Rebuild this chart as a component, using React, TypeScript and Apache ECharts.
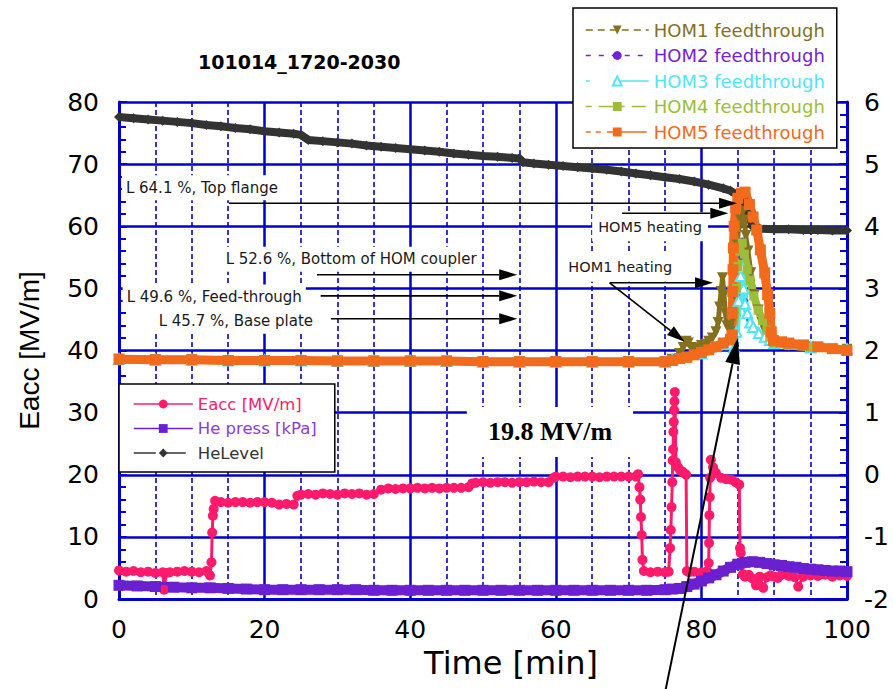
import React, { useEffect, useRef } from 'react';
import * as echarts from 'echarts';

// ---------------- data ----------------
const titleText = '101014_1720-2030';
const xRange = [0, 100];
const leftRange = [0, 80];
const rightRange = [-2, 6];

// Eacc [MV/m] (left axis)
const eaccT = [
  0, 1, 2, 3, 4, 5, 6, 6.2, 6.5, 7, 8, 9, 10, 11, 12, 12.5, 12.7, 12.8, 12.9, 13.0, 13.2,
  14, 15, 16, 17, 18, 19, 20, 21, 22, 23, 24, 24.5,
  25, 26, 27, 28, 29, 30, 31, 32, 33, 34, 35, 36, 37, 38, 39, 40, 41, 42, 43, 44, 45, 46, 47, 48, 48.5,
  49, 50, 51, 52, 53, 54, 55, 56, 57, 58, 59, 59.7,
  60, 61, 62, 63, 64, 65, 66, 67, 68, 69, 70, 71, 71.3,
  71.5, 71.6, 71.7, 71.8, 71.9, 72.1, 73, 74, 75, 75.5,
  75.7, 75.8, 75.9, 76.0, 76.05, 76.1, 76.15, 76.2, 76.25, 76.3,
  76.35, 76.5, 76.8, 77.1, 77.4, 77.7, 77.9, 78.0, 78.3, 79,
  80, 80.8, 81.0, 81.05, 81.1, 81.15, 81.2, 81.3, 81.6, 82,
  82.7, 83.4, 84.1, 84.7, 85.2, 85.3, 85.4, 85.5, 85.7, 86,
  86.5, 87, 87.5, 88, 88.5, 89, 89.5, 90, 90.5, 91,
  92, 92.8, 93.3, 94, 95, 96, 97, 98, 99, 100,
];
const eaccV = [
  4.6, 4.4, 4.5, 4.3, 4.4, 4.2, 4.3, 1.5, 4.2, 4.3, 4.4, 4.5, 4.4, 4.3, 4.5, 3.8, 5.9, 10.7, 13.4, 14.5, 15.8,
  15.6, 15.5, 15.6, 15.6, 15.5, 15.6, 15.6, 15.5, 15.2, 15.3, 15.2, 16.6,
  16.8, 16.9, 16.8, 17.0, 16.9, 16.8, 17.0, 16.9, 17.0, 16.8, 16.9, 17.6, 17.8, 17.7, 17.8, 17.8, 17.9, 17.8, 17.9, 17.8, 17.9, 17.9, 17.9, 18.0, 18.6,
  18.7, 18.8, 18.7, 18.8, 18.8, 18.7, 18.8, 18.8, 18.9, 18.8, 18.8, 19.5,
  19.7, 19.7, 19.6, 19.7, 19.7, 19.7, 19.6, 19.7, 19.7, 19.7, 19.7, 19.7, 20.1,
  18.0, 16.0, 13.2, 10.3, 6.3, 4.5, 4.3, 4.4, 4.3, 4.4,
  8.2, 11.1, 14.8, 18.8, 22.3, 24.1, 26.9, 28.5, 30.4, 31.8,
  33.3, 22.0, 21.2, 20.7, 20.5, 20.2, 20.0, 4.5, 4.3, 4.4,
  4.3, 4.5, 5.8, 9.0, 13.5, 16.4, 19.5, 22.4, 21.2, 20.3,
  19.5, 19.3, 19.2, 18.8, 18.4, 8.2, 7.4, 5.5, 4.0, 3.6,
  3.9, 3.3, 2.2, 3.6, 1.8, 3.5, 3.8, 3.6, 3.4, 3.9,
  3.7, 3.5, 2.0, 3.6, 3.8, 3.7, 3.9, 3.6, 3.8, 3.7,
];

// He press [kPa] (right axis)
const hpT = [
  0, 2.5, 5, 7.5, 10, 12.5, 15, 17.5, 20, 22.5, 25, 27.5, 30, 32.5, 35, 37.5, 40, 42.5, 45, 47.5,
  50, 52.5, 55, 57.5, 60, 62.5, 65, 67.5, 70, 72.5, 75,
  76, 77, 78, 79, 80, 81, 82, 83, 84, 85, 86, 87, 88, 89, 90, 91, 92, 93, 94, 95, 96, 97, 98, 99, 100,
];
const hpV = [
  -1.78, -1.79, -1.8, -1.81, -1.82, -1.82, -1.83, -1.84, -1.85, -1.85, -1.85, -1.85, -1.85, -1.85, -1.86, -1.86, -1.86, -1.86, -1.86, -1.86,
  -1.86, -1.86, -1.86, -1.86, -1.86, -1.86, -1.86, -1.86, -1.86, -1.86, -1.85,
  -1.84, -1.83, -1.8, -1.76, -1.71, -1.66, -1.61, -1.55, -1.49, -1.44, -1.41, -1.4, -1.41, -1.43, -1.45, -1.46, -1.48, -1.49, -1.51, -1.52, -1.53, -1.54, -1.55, -1.55, -1.56,
];

// HeLevel (right axis)
const hlT = [
  0, 2, 4, 6, 8, 10, 12, 14, 16, 18, 20, 22, 24, 25, 26, 28, 30, 32, 34, 36,
  38, 40, 42, 44, 46, 48, 50, 52, 54, 55, 55.5, 57, 59, 61, 63, 65, 67, 69, 71, 73,
  75, 77, 79, 81, 83, 84, 85, 85.7, 86.5, 87, 88, 90, 92, 94, 96, 98, 100,
];
const hlV = [
  5.76, 5.74, 5.72, 5.7, 5.68, 5.66, 5.63, 5.61, 5.58, 5.56, 5.53, 5.51, 5.49, 5.47, 5.39, 5.37, 5.35, 5.33, 5.3, 5.28,
  5.26, 5.24, 5.22, 5.2, 5.17, 5.15, 5.13, 5.12, 5.1, 5.09, 5.03, 5.01, 4.99, 4.97, 4.95, 4.93, 4.91, 4.88, 4.85, 4.82,
  4.79, 4.76, 4.72, 4.67, 4.61, 4.57, 4.5, 4.45, 4.2, 4.0, 3.96, 3.95, 3.95, 3.94, 3.94, 3.93, 3.93,
];

// HOM feedthrough temperatures (right axis): common baseline, then per-series tails
const homBaseT = [0, 5, 10, 15, 20, 25, 30, 35, 40, 45, 50, 55, 60, 65, 70, 75];
const homBaseV = [1.86, 1.85, 1.85, 1.84, 1.84, 1.84, 1.83, 1.83, 1.83, 1.83, 1.82, 1.82, 1.82, 1.82, 1.82, 1.82];

const hom1T = [76, 77, 77.5, 77.9, 78.2, 78.6, 79, 79.5, 80, 80.5, 81, 81.5, 82, 82.3, 82.5, 82.7, 82.9, 83.1, 83.3, 83.5,
  83.8, 84.1, 84.3, 84.5, 84.7, 84.9, 85.1, 85.4, 85.7, 85.9, 86.1, 86.4, 86.8, 87.3, 87.8, 88.3, 88.8, 89.3, 90, 92, 95, 100];
const hom1V = [1.86, 1.95, 2.05, 2.15, 2.12, 2.05, 2.0, 2.04, 2.08, 2.1, 2.15, 2.2, 2.3, 2.45, 2.7, 2.95, 3.17, 2.9, 2.6, 2.4,
  2.35, 2.3, 2.5, 2.9, 3.3, 3.7, 3.95, 4.1, 4.24, 4.1, 3.85, 3.6, 3.25, 2.9, 2.65, 2.45, 2.3, 2.2, 2.12, 2.08, 2.05, 2.02];

const hom2T = [76, 80, 84, 84.6, 85.0, 85.4, 85.6, 85.8, 86.1, 86.5, 87.2, 88, 89, 90, 95, 100];
const hom2V = [1.85, 1.95, 2.1, 2.3, 2.9, 3.5, 3.78, 3.3, 2.8, 2.5, 2.35, 2.27, 2.2, 2.12, 2.05, 2.02];

const hom3T = [76, 80, 84, 84.5, 84.8, 85.1, 85.4, 85.6, 85.8, 86.0, 86.3, 86.7, 87.1, 87.9, 88.7, 89.4, 90, 95, 100];
const hom3V = [1.85, 1.95, 2.1, 2.05, 2.3, 2.8, 3.2, 3.34, 3.0, 2.75, 2.6, 2.45, 2.38, 2.28, 2.22, 2.17, 2.12, 2.05, 2.02];

const hom4T = [76, 78, 80, 82, 84, 84.4, 84.6, 84.8, 85.0, 85.3, 85.6, 85.9, 86.3, 86.7, 87.2, 87.8, 88.4, 89, 89.4, 90, 92, 95, 100];
const hom4V = [1.85, 1.88, 1.95, 2.05, 2.15, 2.25, 2.6, 3.0, 3.35, 3.6, 3.73, 3.55, 3.3, 3.13, 2.88, 2.65, 2.48, 2.33, 2.22, 2.12, 2.08, 2.05, 2.02];

const hom5T = [76, 77, 78, 79, 80, 81, 82, 83, 84, 84.2, 84.25, 84.3, 84.35, 84.4, 84.5, 84.7, 85.0, 85.5, 86.0, 86.6,
  87.1, 87.6, 88.1, 88.7, 89.1, 89.4, 89.6, 89.9, 91, 92, 94, 96, 98, 100];
const hom5V = [1.84, 1.87, 1.89, 1.93, 1.97, 2.01, 2.06, 2.12, 2.18, 2.25, 2.6, 2.95, 3.3, 3.65, 4.0, 4.3, 4.45, 4.53, 4.55, 4.35,
  4.15, 3.94, 3.62, 3.25, 2.9, 2.6, 2.3, 2.16, 2.14, 2.12, 2.09, 2.06, 2.03, 2.0];

// annotation texts, anchored at [time, Eacc] (left edge, vertical centre)
const noteTexts = ['L 64.1 %, Top flange', 'L 52.6 %, Bottom of HOM coupler', 'L 49.6 %, Feed-through', 'L 45.7 %, Base plate', 'HOM5 heating', 'HOM1 heating'];
const noteT = [0.4, 14.1, 0.5, 4.9, 65.0, 60.9];
const noteE = [66.2, 54.7, 48.6, 44.7, 59.9, 53.4];

// arrows: start [time, Eacc] -> tip [time, Eacc]
const arrowFromT = [15.1, 69.1, 27.2, 27.7, 29.1, 67.4, 67.4];
const arrowFromE = [63.7, 62.1, 52.2, 48.8, 45.1, 50.9, 50.9];
const arrowToT = [84.9, 83.7, 54.7, 54.7, 54.7, 81.6, 77.7];
const arrowToE = [63.7, 62.1, 52.2, 48.8, 45.1, 50.9, 41.4];
const bigArrowFrom = [75.1, -14.5];
const bigArrowTo = [85.0, 42.0];
const bigLabel = '19.8 MV/m';
const bigLabelAt = [59.2, 26.9];

// ---------------------------------------------------------------
const zip = (t: number[], v: number[]) => t.map((x, i) => [x, v[i]]);

const BLUE = '#0000CC';
const C_EACC = '#FF1A6C';
const C_HP = '#6A1FD0';
const C_HL = '#333333';
const C_H1 = '#84711F';
const C_H2 = '#7422D8';
const C_H3 = '#4FE6F5';
const C_H4 = '#9CBD38';
const C_H5 = '#F26A1B';
const SANS = 'DejaVu Sans';

export default function App() {
  const ref = useRef<HTMLDivElement>(null);

  useEffect(() => {
    const chart = echarts.init(ref.current as HTMLDivElement, null, { renderer: 'svg' });

    const homSeries = (name: string, color: string, t: number[], v: number[], symbol: string, size: number, width: number, rotate = 0) => ({
      name,
      type: 'line',
      yAxisIndex: 1,
      data: zip(homBaseT.concat(t), homBaseV.concat(v)),
      symbol,
      symbolSize: size,
      symbolRotate: rotate,
      showSymbol: true,
      color,
      itemStyle: { color },
      lineStyle: { color, width },
      silent: true,
    });

    const option: any = {
      animation: false,
      backgroundColor: '#ffffff',
      title: {
        text: titleText,
        left: 198,
        top: 52,
        padding: 0,
        textStyle: { fontFamily: SANS, fontWeight: 'bold', fontSize: 19, color: '#000' },
      },
      grid: { left: 119, right: 46, top: 102, bottom: 90, containLabel: false },
      xAxis: {
        type: 'value',
        min: xRange[0],
        max: xRange[1],
        interval: 20,
        name: 'Time [min]',
        nameLocation: 'middle',
        nameGap: 48,
        nameTextStyle: { fontFamily: SANS, fontSize: 32, color: '#000', padding: [0, 0, 0, 56] },
        axisLine: { show: true, onZero: false, lineStyle: { color: BLUE, width: 3 } },
        axisTick: { show: false },
        minorTick: { show: false, splitNumber: 4 },
        axisLabel: { fontFamily: SANS, fontSize: 25, color: '#000', margin: 18 },
        splitLine: { show: true, lineStyle: { color: BLUE, width: 2.5 } },
        minorSplitLine: { show: true, lineStyle: { color: BLUE, width: 1.6, type: [5, 3] } },
      },
      yAxis: [
        {
          type: 'value',
          min: leftRange[0],
          max: leftRange[1],
          interval: 10,
          position: 'left',
          name: 'Eacc [MV/m]',
          nameLocation: 'middle',
          nameGap: 76,
          nameTextStyle: { fontFamily: 'Liberation Sans', fontSize: 28, color: '#000' },
          axisLine: { show: true, onZero: false, lineStyle: { color: BLUE, width: 3 } },
          axisTick: { show: true, inside: true, length: 8, lineStyle: { color: BLUE, width: 2 } },
          minorTick: { show: true, splitNumber: 5, length: 7, lineStyle: { color: BLUE, width: 2 } },
          axisLabel: { fontFamily: SANS, fontSize: 25, color: '#000', margin: 20 },
          splitLine: { show: true, lineStyle: { color: BLUE, width: 2.5 } },
        },
        {
          type: 'value',
          min: rightRange[0],
          max: rightRange[1],
          interval: 1,
          position: 'right',
          axisLine: { show: true, onZero: false, lineStyle: { color: BLUE, width: 3 } },
          axisTick: { show: true, inside: true, length: 8, lineStyle: { color: BLUE, width: 2 } },
          minorTick: { show: true, splitNumber: 5, length: 7, lineStyle: { color: BLUE, width: 2 } },
          axisLabel: { fontFamily: SANS, fontSize: 25, color: '#000', margin: 17 },
          splitLine: { show: false },
        },
      ],
      legend: [
        {
          orient: 'vertical',
          left: 573,
          top: 8,
          padding: [12, 12, 6, 12],
          itemGap: 5.5,
          itemWidth: 63,
          itemHeight: 11,
          backgroundColor: '#ffffff',
          borderColor: '#000',
          borderWidth: 1.5,
          borderRadius: 0,
          selectedMode: false,
          lineStyle: { width: 1.5 },
          textStyle: { fontFamily: SANS, fontSize: 18, lineHeight: 20 },
          data: [
            { name: 'HOM1 feedthrough', textStyle: { color: C_H1 }, lineStyle: { type: [7, 5] } },
            { name: 'HOM2 feedthrough', textStyle: { color: C_H2 }, lineStyle: { type: [5, 8] } },
            { name: 'HOM3 feedthrough', textStyle: { color: C_H3 }, lineStyle: { type: [4, 24, 60] } },
            { name: 'HOM4 feedthrough', textStyle: { color: C_H4 }, lineStyle: { type: [6, 7, 14, 6] } },
            { name: 'HOM5 feedthrough', textStyle: { color: C_H5 }, lineStyle: { type: [5, 5, 5, 6, 40] } },
          ],
        },
        {
          orient: 'vertical',
          left: 119,
          top: 384,
          padding: [11, 18, 10, 14],
          itemGap: 6.5,
          itemWidth: 59,
          itemHeight: 11,
          backgroundColor: '#ffffff',
          borderColor: '#000',
          borderWidth: 1.5,
          selectedMode: false,
          lineStyle: { width: 1.5 },
          textStyle: { fontFamily: SANS, fontSize: 16.5, lineHeight: 18 },
          data: [
            { name: 'Eacc [MV/m]', textStyle: { color: C_EACC } },
            { name: 'He press [kPa]', textStyle: { color: '#8A3CE0' } },
            { name: 'HeLevel', textStyle: { color: C_HL }, lineStyle: { type: [22, 8] } },
          ],
        },
      ],
      series: [
        {
          name: 'Eacc [MV/m]',
          type: 'line',
          yAxisIndex: 0,
          data: zip(eaccT, eaccV),
          symbol: 'circle',
          symbolSize: 10,
          showSymbol: true,
          color: C_EACC,
          itemStyle: { color: C_EACC },
          lineStyle: { color: C_EACC, width: 3 },
          silent: true,
        },
        {
          name: 'He press [kPa]',
          type: 'line',
          yAxisIndex: 1,
          data: zip(hpT, hpV),
          symbol: 'rect',
          symbolSize: 11,
          showSymbol: true,
          color: C_HP,
          itemStyle: { color: C_HP },
          lineStyle: { color: C_HP, width: 10 },
          silent: true,
        },
        {
          name: 'HeLevel',
          type: 'line',
          yAxisIndex: 1,
          data: zip(hlT, hlV),
          symbol: 'diamond',
          symbolSize: 10,
          showSymbol: true,
          color: C_HL,
          itemStyle: { color: C_HL },
          lineStyle: { color: C_HL, width: 8 },
          silent: true,
        },
        homSeries('HOM1 feedthrough', C_H1, hom1T, hom1V, 'triangle', 11, 5, 180),
        homSeries('HOM2 feedthrough', C_H2, hom2T, hom2V, 'circle', 5, 4),
        homSeries('HOM3 feedthrough', C_H3, hom3T, hom3V, 'emptyTriangle', 10, 7),
        homSeries('HOM4 feedthrough', C_H4, hom4T, hom4V, 'rect', 9, 8),
        homSeries('HOM5 feedthrough', C_H5, hom5T, hom5V, 'rect', 11, 9),
      ],
    };

    chart.setOption(option);

    // ---- annotations (positions converted from data coordinates) ----
    const toPx = (p: number[]) => chart.convertToPixel({ xAxisIndex: 0, yAxisIndex: 0 }, p) as number[];
    const graphics: any[] = [];

    const addArrow = (from: number[], to: number[], headLen: number, headW: number, width: number) => {
      const a = toPx(from);
      const b = toPx(to);
      const dx = b[0] - a[0];
      const dy = b[1] - a[1];
      const len = Math.sqrt(dx * dx + dy * dy) || 1;
      const ux = dx / len;
      const uy = dy / len;
      const bx = b[0] - ux * headLen;
      const by = b[1] - uy * headLen;
      const px = -uy;
      const py = ux;
      graphics.push({
        type: 'line',
        z: 100,
        silent: true,
        shape: { x1: a[0], y1: a[1], x2: bx, y2: by },
        style: { stroke: '#000', lineWidth: width },
      });
      graphics.push({
        type: 'polygon',
        z: 101,
        silent: true,
        shape: {
          points: [
            [b[0], b[1]],
            [bx + (px * headW) / 2, by + (py * headW) / 2],
            [bx - (px * headW) / 2, by - (py * headW) / 2],
          ],
        },
        style: { fill: '#000' },
      });
    };

    noteTexts.forEach((txt, i) => {
      const p = toPx([noteT[i], noteE[i]]);
      graphics.push({
        type: 'text',
        z: 99,
        silent: true,
        x: p[0],
        y: p[1],
        style: {
          text: txt,
          fontFamily: SANS,
          fontSize: i >= 4 ? 14.5 : 15,
          fill: '#1a1a1a',
          align: 'left',
          verticalAlign: 'middle',
          textAlign: 'left',
          textVerticalAlign: 'middle',
          backgroundColor: '#ffffff',
          padding: i >= 4 ? [7, 6] : [5, 4],
        },
      });
    });

    arrowFromT.forEach((t, i) => {
      addArrow([t, arrowFromE[i]], [arrowToT[i], arrowToE[i]], 18, 11, 1.6);
    });

    const bl = toPx(bigLabelAt);
    graphics.push({
      type: 'text',
      z: 99,
      silent: true,
      x: bl[0],
      y: bl[1],
      style: {
        text: bigLabel,
        fontFamily: 'Liberation Serif',
        fontWeight: 'bold',
        fontSize: 26,
        fill: '#000',
        align: 'center',
        verticalAlign: 'middle',
        textAlign: 'center',
        textVerticalAlign: 'middle',
        backgroundColor: '#ffffff',
        padding: [12, 21],
      },
    });
    addArrow(bigArrowFrom, bigArrowTo, 26, 15, 2);

    chart.setOption({ graphic: graphics });

    return () => {
      chart.dispose();
    };
  }, []);

  return <div ref={ref} style={{ position: 'fixed', left: 0, top: 0, width: 893, height: 689 }} />;
}
